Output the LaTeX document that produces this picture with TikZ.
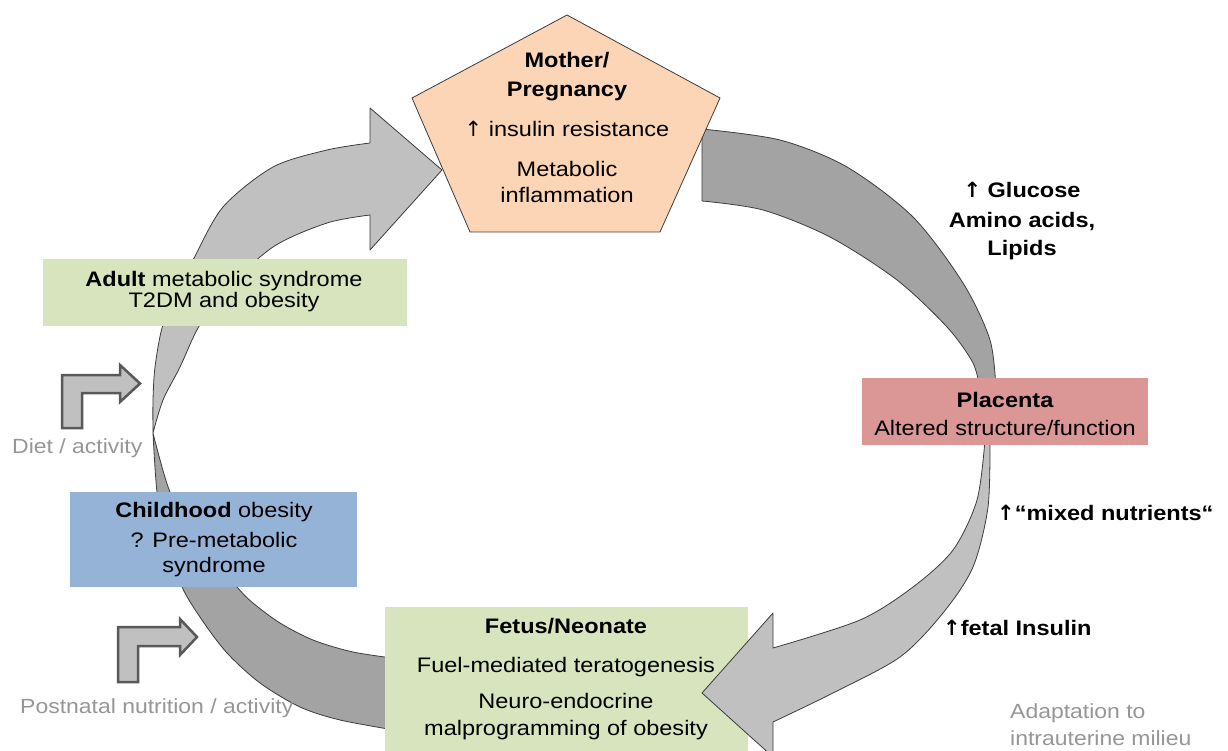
\documentclass[tikz,border=0pt]{standalone}
\usepackage{fontspec}
\setmainfont{Liberation Sans}[FakeStretch=1.12]
\newfontfamily\arrowfont{DejaVu Sans}
\newcommand\uparr{{\arrowfont ↑}}
\definecolor{peach}{RGB}{251,213,181}
\definecolor{rose}{RGB}{219,151,149}
\definecolor{sage}{RGB}{215,228,189}
\definecolor{sky}{RGB}{149,179,215}
\definecolor{bandDark}{RGB}{163,163,163}
\definecolor{bandLight}{RGB}{192,192,192}
\definecolor{edgeCol}{RGB}{60,60,60}
\definecolor{bentEdge}{RGB}{89,89,89}
\definecolor{noteCol}{RGB}{150,150,150}
\begin{document}
\begin{tikzpicture}[x=1pt,y=-1pt,
  band/.style={draw=edgeCol, line width=0.8pt, line join=round},
  darkband/.style={band, fill=bandDark},
  lightband/.style={band, fill=bandLight},
  boxshape/.style={inner sep=0pt, draw=none},
  txt/.style={font=\fontsize{21}{25}\selectfont, anchor=base, inner sep=0pt},
  btxt/.style={txt, font=\fontsize{21}{25}\selectfont\bfseries},
  notetxt/.style={font=\fontsize{20.5}{25}\selectfont, anchor=base west, inner sep=0pt, text=noteCol},
  sidetxt/.style={font=\fontsize{21}{25}\selectfont\bfseries, anchor=base west, inner sep=0pt},
  bent/.style={draw=bentEdge, line width=2.5pt, fill=bandLight, line join=miter},
]
\useasboundingbox (0,0) rectangle (1228,751);

% ---- top-right band (mother -> placenta)
\draw[darkband] plot[smooth] coordinates {(702,129) (780,140) (847,167) (913,217) (963,283) (990,340) (996,390)}
  -- plot[smooth] coordinates {(980,390) (973,363) (947,327) (897,280) (830,237) (763,210) (702,201)} -- cycle;

% ---- bottom-left band (fetus -> childhood)
\draw[darkband] plot[smooth] coordinates {(400,659) (353,652) (313,640) (280,623) (253,603) (237,587) (197,540) (170,492) (153,433)}
  -- plot[smooth] coordinates {(153,433) (157,492) (166,540) (182,587) (202,620) (227,653) (260,683) (300,707) (340,720) (400,731)} -- cycle;

% ---- top-left arrow (adult -> mother)
\draw[lightband] plot[smooth] coordinates {(153,433) (153,400) (155,367) (162,328) (175,295) (193,260) (223,207) (273,167) (327,150) (370,143)}
  -- (370,108) -- (442,170) -- (370,250) -- (370,215)
  -- plot[smooth] coordinates {(370,215) (327,223) (273,247) (222,293) (198,328) (180,367) (163,400) (153,433)} -- cycle;

% ---- boxes
\node[boxshape, fill=sage, minimum width=364, minimum height=67] (adult) at (225,292.5) {};
\node[boxshape, fill=sky, minimum width=287, minimum height=95] (child) at (213.5,539.5) {};
\node[boxshape, fill=sage, minimum width=363, minimum height=145] (fetus) at (566.5,679.5) {};
\draw[fill=peach, draw=edgeCol, line width=0.8pt] (567,15) -- (720,98) -- (660,232) -- (470,232) -- (412,98) -- cycle;
\coordinate (mother) at (567,130);

% ---- lower-right arrow (placenta -> fetus)
\draw[lightband] plot[smooth] coordinates {(990,440) (988,507) (973,567) (943,613) (900,657) (833,693) (773,722)}
  -- (773,757) -- (702,693) -- (773,613) -- (773,648)
  -- plot[smooth] coordinates {(773,648) (860,620) (913,587) (953,550) (977,500) (985,440)} -- cycle;

\node[boxshape, fill=rose, minimum width=286, minimum height=67] (placenta) at (1005,411.5) {};

% ---- texts
\node[btxt] (m1) at (567,68) {Mother/};
\node[btxt] (m2) at (567,97) {Pregnancy};
\node[txt] (m3) at (567,137) {\uparr\ insulin resistance};
\node[txt] (m4) at (567,177) {Metabolic};
\node[txt] (m5) at (567,203) {inflammation};

\node[txt] (a1) at (224,287) {\textbf{Adult} metabolic syndrome};
\node[txt] (a2) at (224,307) {T2DM and obesity};

\node[txt] (c1) at (214,517) {\textbf{Childhood} obesity};
\node[txt] (c2) at (214,547) {? Pre-metabolic};
\node[txt] (c3) at (214,572) {syndrome};

\node[btxt] (p1) at (1005,407) {Placenta};
\node[txt] (p2) at (1005,435) {Altered structure/function};

\node[btxt] (f1) at (566,633) {Fetus/Neonate};
\node[txt] (f2) at (566,672) {Fuel-mediated teratogenesis};
\node[txt] (f3) at (566,708) {Neuro-endocrine};
\node[txt] (f4) at (566,735) {malprogramming of obesity};

\node[btxt] (g1) at (1022,198) {\uparr\ Glucose};
\node[btxt] (g2) at (1022,228) {Amino acids,};
\node[btxt] (g3) at (1022,255) {Lipids};

\node[sidetxt] (mix) at (997,520) {\uparr“mixed nutrients“};
\node[sidetxt] (ins) at (943,635) {\uparr fetal Insulin};

\node[notetxt] (ad1) at (1010,718) {Adaptation to};
\node[notetxt] (ad2) at (1010,745) {intrauterine milieu};
\node[notetxt] (diet) at (12,453) {Diet / activity};
\node[notetxt] (post) at (20,713) {Postnatal nutrition / activity};

% ---- bent arrows
\draw[bent] (62,428) -- (62,375) -- (120,375) -- (120,365) -- (140,383.5) -- (120,402) -- (120,393) -- (82,393) -- (82,428) -- cycle;
\draw[bent] (118,682) -- (118,627) -- (180,627) -- (180,619) -- (197,637) -- (180,655) -- (180,646) -- (138,646) -- (138,682) -- cycle;
\end{tikzpicture}
\end{document}
